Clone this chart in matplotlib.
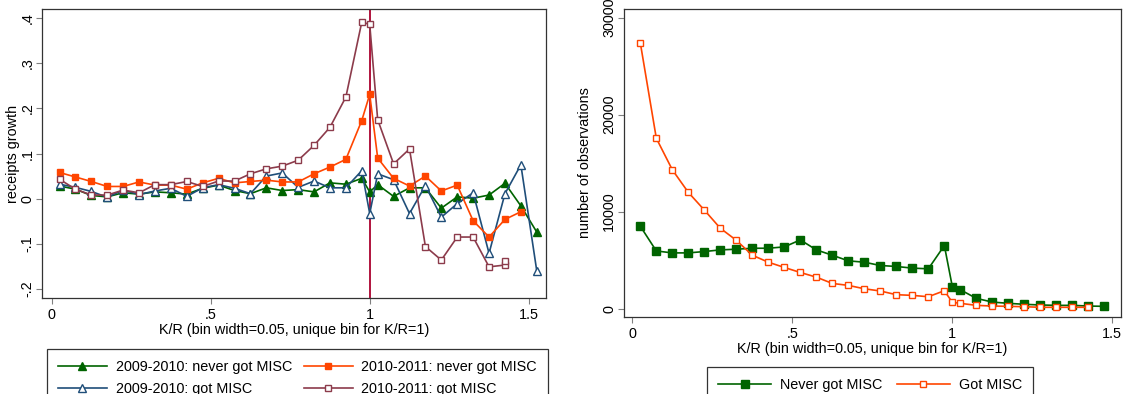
import matplotlib
matplotlib.use("Agg")
import matplotlib.pyplot as plt
from matplotlib.ticker import FixedLocator

plt.rcParams['font.family'] = ['Liberation Sans', 'DejaVu Sans']

# K/R bin centres (unique bin at K/R = 1)
kr_bins = [0.025, 0.075, 0.125, 0.175, 0.225, 0.275, 0.325, 0.375, 0.425, 0.475,
           0.525, 0.575, 0.625, 0.675, 0.725, 0.775, 0.825, 0.875, 0.925, 0.975,
           1.0, 1.025, 1.075, 1.125, 1.175, 1.225, 1.275, 1.325, 1.375, 1.425,
           1.475, 1.525]

# receipts growth (left panel)
g0910_never = [0.028, 0.021, 0.007, 0.004, 0.013, 0.010, 0.015, 0.013, 0.010, 0.023,
               0.030, 0.018, 0.011, 0.024, 0.018, 0.020, 0.015, 0.035, 0.032, 0.045,
               0.015, 0.031, 0.005, 0.024, 0.024, -0.021, 0.004, 0.001, 0.008, 0.034,
               -0.016, -0.074]
g0910_got = [0.032, 0.025, 0.016, 0.003, 0.019, 0.009, 0.017, 0.023, 0.005, 0.024,
             0.031, 0.023, 0.011, 0.050, 0.057, 0.025, 0.039, 0.024, 0.024, 0.062,
             -0.033, 0.055, 0.042, -0.033, 0.029, -0.041, -0.011, 0.013, -0.121, 0.011,
             0.075, -0.160]
g1011_never = [0.058, 0.048, 0.038, 0.027, 0.027, 0.037, 0.030, 0.030, 0.021, 0.035,
               0.045, 0.035, 0.038, 0.041, 0.037, 0.037, 0.055, 0.070, 0.087, 0.173,
               0.231, 0.090, 0.045, 0.028, 0.050, 0.017, 0.030, -0.049, -0.085, -0.046,
               -0.029]
g1011_got = [0.043, 0.021, 0.008, 0.008, 0.019, 0.013, 0.031, 0.031, 0.038, 0.027,
             0.039, 0.039, 0.055, 0.066, 0.072, 0.085, 0.118, 0.158, 0.225, 0.391,
             0.386, 0.175, 0.077, 0.110, -0.106, -0.136, -0.085, -0.085, -0.151, -0.147,
             -0.138]
x1011_got = kr_bins[:30] + [1.425]

# number of observations (right panel)
obs_never = [8500, 5950, 5750, 5750, 5890, 6060, 6130, 6230, 6230, 6370,
             7090, 6060, 5510, 4930, 4790, 4450, 4350, 4180, 4110, 6510,
             2260, 1950, 1060, 680, 550, 450, 380, 340, 340, 270, 240]
obs_got = [27400, 17570, 14320, 11990, 10170, 8290, 7050, 5510, 4790, 4250,
           3730, 3250, 2600, 2400, 2050, 1820, 1440, 1370, 1230, 1850,
           650, 550, 340, 270, 240, 200, 140, 140, 140, 140]

xticks = [0, 0.5, 1, 1.5]
xtick_labels = ["0", ".5", "1", "1.5"]
left_yticks = [-0.2, -0.1, 0, 0.1, 0.2, 0.3, 0.4]
left_ylabels = ["-.2", "-.1", "0", ".1", ".2", ".3", ".4"]
right_yticks = [0, 10000, 20000, 30000]
right_ylabels = ["0", "10000", "20000", "30000"]

GREEN = "#006400"
ORANGE = "#ff4500"
NAVY = "#1f4e79"
MAROON = "#8c3b4b"
CRANBERRY = "#b0133d"

fig = plt.figure(figsize=(11.29, 3.94), dpi=100)
ax1 = fig.add_axes([42 / 1129, 1 - 298 / 394, 504 / 1129, 289 / 394])
ax2 = fig.add_axes([624 / 1129, 1 - 317 / 394, 497 / 1129, 308 / 394])

fs = 10.4

# left panel
ax1.axvline(1, color=CRANBERRY, lw=1.4, zorder=1)
l1, = ax1.plot(kr_bins, g0910_never, color=GREEN, lw=1.2, marker='^', ms=5.5,
               mfc=GREEN, mec=GREEN, label="2009-2010: never got MISC", zorder=3)
l2, = ax1.plot(kr_bins, g0910_got, color=NAVY, lw=1.2, marker='^', ms=5.5,
               mfc='white', mec=NAVY, mew=1.0, label="2009-2010: got MISC", zorder=3)
l3, = ax1.plot(kr_bins[:31], g1011_never, color=ORANGE, lw=1.2, marker='s', ms=5,
               mfc=ORANGE, mec=ORANGE, label="2010-2011: never got MISC", zorder=3)
l4, = ax1.plot(x1011_got, g1011_got, color=MAROON, lw=1.2, marker='s', ms=4.5,
               mfc='white', mec=MAROON, mew=1.0, label="2010-2011: got MISC", zorder=3)
ax1.set_xlim(-0.03, 1.554)
ax1.set_ylim(-0.22, 0.42)

# right panel
r1, = ax2.plot(kr_bins[:31], obs_never, color=GREEN, lw=1.2, marker='s', ms=5.5,
               mfc=GREEN, mec=GREEN, label="Never got MISC")
r2, = ax2.plot(kr_bins[:30], obs_got, color=ORANGE, lw=1.2, marker='s', ms=4.5,
               mfc='white', mec=ORANGE, mew=1.0, label="Got MISC")
ax2.set_xlim(-0.026, 1.527)
ax2.set_ylim(-860, 30900)

for ax, yt, yl in [(ax1, left_yticks, left_ylabels), (ax2, right_yticks, right_ylabels)]:
    ax.xaxis.set_major_locator(FixedLocator(xticks))
    ax.set_xticklabels(xtick_labels, fontsize=fs)
    ax.yaxis.set_major_locator(FixedLocator(yt))
    ax.set_yticklabels(yl, fontsize=fs, rotation=90, va='center')
    ax.tick_params(direction='out', length=4, width=0.8, color='#808080')
    ax.tick_params(axis='y', pad=1.5)
    ax.tick_params(axis='x', pad=3)
    for s in ax.spines.values():
        s.set_color('#333333')
        s.set_linewidth(0.9)
    ax.set_xlabel("K/R (bin width=0.05, unique bin for K/R=1)", fontsize=fs, labelpad=1)

ax1.set_ylabel("receipts growth", fontsize=fs)
ax1.yaxis.set_label_coords(-0.044, 0.5)
ax2.set_ylabel("number of observations", fontsize=fs)
ax2.yaxis.set_label_coords(-0.064, 0.5)

leg_kw = dict(fontsize=fs, frameon=True, fancybox=False, edgecolor='black',
              handletextpad=0.6, borderpad=0.75, labelspacing=0.55,
              numpoints=1, borderaxespad=0)
leg1 = fig.legend(handles=[l1, l2, l3, l4], ncol=2, loc='upper left',
                  bbox_to_anchor=(47 / 1129, 1 - 349 / 394),
                  handlelength=3.4, columnspacing=0.8, **leg_kw)
leg2 = fig.legend(handles=[r1, r2], ncol=2, loc='upper left',
                  bbox_to_anchor=(707 / 1129, 1 - 367 / 394),
                  handlelength=3.7, columnspacing=1.0, **leg_kw)
for leg in (leg1, leg2):
    leg.get_frame().set_linewidth(0.9)

fig.savefig("out.png", dpi=100)
